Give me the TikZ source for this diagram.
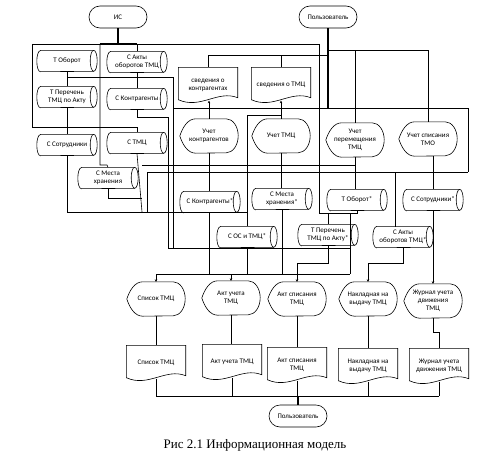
\documentclass[tikz,border=0pt]{standalone}
\usepackage{fontspec}
\setmainfont{Carlito}
\newfontfamily\capfont{Liberation Serif}
\usetikzlibrary{arrows.meta}
\newcommand\drawcyl[1]{%
  \draw[ln] ([xshift=3.5pt]#1.north west) -- ([xshift=-3.5pt]#1.north east)
    arc[start angle=90,end angle=-90,x radius=3.5pt,y radius=10.5pt]
    -- ([xshift=3.5pt]#1.south west)
    arc[start angle=270,end angle=90,x radius=3.5pt,y radius=10.5pt] -- cycle;
  \draw[ln] ([xshift=-3.5pt]#1.north east)
    arc[start angle=90,end angle=270,x radius=3.5pt,y radius=10.5pt];}
\newcommand\drawdisp[1]{%
  \draw[ln] (#1.west) .. controls ([xshift=3pt,yshift=9pt]#1.west) and ([xshift=8pt]#1.north west) .. ([xshift=16pt]#1.north west)
    -- ([xshift=-12pt]#1.north east)
    arc[start angle=90,end angle=-90,x radius=12pt,y radius=17pt]
    -- ([xshift=16pt]#1.south west)
    .. controls ([xshift=8pt]#1.south west) and ([xshift=3pt,yshift=-9pt]#1.west) .. cycle;}
\newcommand\drawdoc[1]{%
  \draw[ln] (#1.north west) -- (#1.north east) -- ([yshift=5pt]#1.south east)
    .. controls ([xshift=-20pt,yshift=13pt]#1.south east) and ([xshift=22pt,yshift=-7pt]#1.south west) .. ([yshift=3pt]#1.south west) -- cycle;}
\tikzset{
  lbl/.style={inner sep=0pt, align=center, font=\fontsize{7}{8}\selectfont},
  cylbox/.style={lbl, minimum width=60pt, minimum height=21pt},
  docbox/.style={lbl, minimum width=59pt, minimum height=35pt},
  dispbox/.style={lbl, minimum width=58pt, minimum height=34pt},
  term/.style={lbl, draw, rounded corners=11pt, minimum width=58pt, minimum height=22pt, line width=0.6pt},
  ln/.style={line width=0.6pt},
  thk/.style={line width=1.3pt},
  tip/.style={-{Stealth[length=2.5pt,width=2.5pt]}}
}
\begin{document}
\begin{tikzpicture}[x=1pt,y=-1pt]
\fill[white] (0,0) rectangle (486,460);
\useasboundingbox (0,0) rectangle (486,460);
% terminators
\node[term] (is) at (118,17) {ИС};
\node[term] (user1) at (328,17) {Пользователь};
\node[term] (user2) at (298,416) {Пользователь};
% cylinders
\node[cylbox] (c1) at (67,61) {Т Оборот};
\node[cylbox] (c2) at (137,62) {С Акты\\оборотов ТМЦ};
\node[cylbox] (c3) at (67,97) {Т Перечень\\ТМЦ по Акту};
\node[cylbox] (c4) at (137,99) {С Контрагенты};
\node[cylbox] (c5) at (67,145) {С Сотрудники};
\node[cylbox] (c6) at (137,143) {С ТМЦ};
\node[cylbox] (c7) at (108,178) {С Места\\хранения};
\node[cylbox] (c8) at (210,202) {С Контрагенты*};
\node[cylbox] (c9) at (247,237) {С ОС и ТМЦ*};
\node[cylbox] (c10) at (282,199) {С Места\\хранения*};
\node[cylbox] (c11) at (357,200) {Т Оборот*};
\node[cylbox] (c12) at (433,200) {С Сотрудники*};
\node[cylbox] (c13) at (328,235) {Т Перечень\\ТМЦ по Акту*};
\node[cylbox] (c14) at (403,237) {С Акты\\оборотов ТМЦ*};
\foreach \n in {c1,c2,c3,c4,c5,c6,c7,c8,c9,c10,c11,c12,c13,c14} {\drawcyl{\n}}
% documents
\node[docbox] (d1) at (208,85) {сведения о\\контрагентах};
\node[docbox] (d2) at (281,85) {сведения о ТМЦ};
\node[docbox] (b1) at (156,363) {Список ТМЦ};
\node[docbox] (b2) at (232,362) {Акт учета ТМЦ};
\node[docbox] (b3) at (297,365) {Акт списания\\ТМЦ};
\node[docbox] (b4) at (368,366) {Накладная на\\выдачу ТМЦ};
\node[docbox] (b5) at (439,366) {Журнал учета\\движения ТМЦ};
\foreach \n in {d1,d2,b1,b2,b3,b4,b5} {\drawdoc{\n}}
% displays
\node[dispbox] (u1) at (209,136) {Учет\\контрагентов};
\node[dispbox] (u2) at (281,136) {Учет ТМЦ};
\node[dispbox] (u3) at (355,140) {Учет\\перемещения\\ТМЦ};
\node[dispbox] (u4) at (428,139) {Учет списания\\ТМО};
\node[dispbox] (a1) at (156,299) {Список ТМЦ};
\node[dispbox] (a2) at (231,298) {Акт учета\\ТМЦ};
\node[dispbox] (a3) at (297,299) {Акт списания\\ТМЦ};
\node[dispbox] (a4) at (368,299) {Накладная на\\выдачу ТМЦ};
\node[dispbox] (a5) at (433,301) {Журнал учета\\движения\\ТМЦ};
\foreach \n in {u1,u2,u3,u4,a1,a2,a3,a4,a5} {\drawdisp{\n}}
\node[font=\capfont\fontsize{13}{15}\selectfont] (cap) at (255,445) {Рис 2.1 Информационная модель};
% ---- connectors: ИС side
\draw[thk] (is.south) -- (118,44);
\draw[ln] (32,44) -- (319,44);
\draw[thk] (100,44) -- (137,44);
\draw[ln] (137,44) -- (c2.north);
\draw[ln] (32,44) -- (32,127) -- (137,127) -- (c6.north);
\draw[ln] (100,44) -- (100,165) -- (107,165) -- (c7.north);
\draw[ln] (c1.south) -- (c3.north);
\draw[ln] (67,77) -- (173,77) -- (173,248);
\draw[ln] (c2.south) -- (c4.north);
\draw[ln] (c4.south) -- (137,117) -- (168,117) -- (168,248);
\draw[ln] (c3.south) -- (c5.north);
\draw[ln] (c5.south) -- (67,212) -- (247,212);
\draw[ln] (c6.south) -- (142,212);
\draw[ln] (c7.south) -- (108,198) -- (142,198);
\draw[ln] (142,165) -- (355,165);
\draw[ln] (147,212) -- (147,172) -- (468,172);
% ---- Пользователь side
\draw[thk] (user1.south) -- (328,108);
\draw[ln] (173,108) -- (468,108) -- (468,172);
\draw[ln] (208,55) -- (328,55);
\draw[ln] (208,55) -- (d1.north);
\draw[ln] (281,55) -- (d2.north);
\draw[ln] (328,50) -- (428,50);
\draw[ln] (355,50) -- (u3.north);
\draw[ln] (428,50) -- (u4.north);
\draw[ln] (319,44) -- (319,213);
% ---- Учет processes
\draw[ln,tip] (u1.north) -- ([yshift=2pt]d1.south -| u1.north);
\draw[ln,tip] (u2.north) -- ([yshift=2pt]d2.south);
\draw[ln] (281,115) -- (247,115) -- (c9.north);
\draw[ln] (u1.south) -- (u1.south |- c8.north);
\draw[ln] (u2.south) -- (u2.south |- c10.north);
\draw[ln] (u3.south) -- (u3.south |- c11.north);
\draw[ln] (c12.north) -- (c12.north |- u4.south);
\draw[ln] (395,172) -- (395,226.5);
\draw[ln] (c11.south) -- (357,213) -- (319,213);
\draw[ln] (328,213) -- (c13.north);
\draw[ln] (350,213) -- (350,274);
% ---- to outputs
\draw[ln] (c8.south -| u1.south) -- (209,274);
\draw[ln] (c9.south) -- (247,274);
\draw[ln] (c10.south) -- (282,274);
\draw[ln] (168,248) -- (350,248);
\draw[ln] (156,274) -- (350,274);
\draw[ln,tip] (156,274) -- (a1.north);
\draw[ln,tip] (231,274) -- (a2.north);
\draw[ln,tip] (c13.south) -- (328,263) -- (297,263) -- (a3.north);
\draw[ln,tip] (c14.south) -- (403,263) -- (368,263) -- (a4.north);
\draw[ln,tip] (c12.south) -- (a5.north);
% ---- displays to documents
\draw[ln] (a1.south) -- (b1.north);
\draw[ln] (a2.south) -- (a2.south |- b2.north);
\draw[ln] (a3.south) -- (b3.north);
\draw[ln] (a4.south) -- (b4.north);
\draw[ln] (a5.south) -- (433,332) -- (439,332) -- (b5.north);
\coordinate (bus) at (0,396);
\foreach \n in {b1,b2,b3,b4,b5} {\draw[ln] ([yshift=2pt]\n.south) -- (\n.south |- bus);}
\draw[ln] (156,396) -- (439,396);
\draw[thk] (298,396) -- (user2.north);
\end{tikzpicture}
\end{document}
